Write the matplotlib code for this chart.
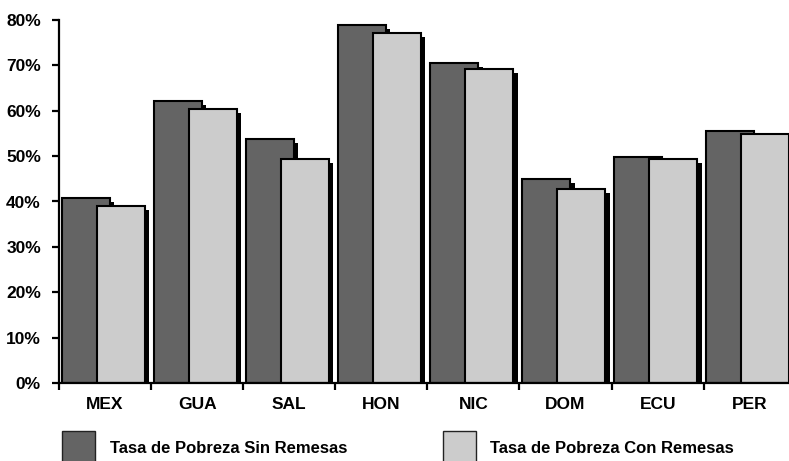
import matplotlib
matplotlib.use("Agg")
import matplotlib.pyplot as plt
from matplotlib.patches import Rectangle
from matplotlib import font_manager as fm
import numpy as np

categories = ["MEX", "GUA", "SAL", "HON", "NIC", "DOM", "ECU", "PER"]
sin_remesas = [40.8, 62.2, 53.7, 78.9, 70.6, 44.9, 49.9, 55.5]
con_remesas = [39.1, 60.4, 49.3, 77.1, 69.3, 42.7, 49.3, 54.9]
yticks = [0, 10, 20, 30, 40, 50, 60, 70, 80]
ytick_labels = ["0%", "10%", "20%", "30%", "40%", "50%", "60%", "70%", "80%"]
legend_labels = ["Tasa de Pobreza Sin Remesas", "Tasa de Pobreza Con Remesas"]

names = {f.name for f in fm.fontManager.ttflist}
main_font = "Liberation Sans" if "Liberation Sans" in names else "DejaVu Sans"
narrow_font = "Liberation Sans Narrow" if "Liberation Sans Narrow" in names else main_font

dark = "#646464"
light = "#cccccc"

W, H = 789, 461
fig = plt.figure(figsize=(W / 100, H / 100), dpi=100)
ax_left = 59 / W
ax_bottom = (H - 383) / H
ax_top = (H - 20) / H
cat_px = 92.1
ax_w = 8 * cat_px / W
ax = fig.add_axes([ax_left, ax_bottom, ax_w, ax_top - ax_bottom])

x = np.arange(len(categories))
px_x = 1 / cat_px           # one pixel in data-x units
px_y = 80 / (383 - 20)      # one pixel in data-y units

dark_off, bar_w = 2.7 * px_x, 48 * px_x
light_off = 37.7 * px_x
sdx, sdy = 4.5 * px_x, 4 * px_y

# shadows
ax.bar(x + dark_off + sdx, np.array(sin_remesas) - sdy, width=bar_w, align="edge",
       color="black", linewidth=0, zorder=1)
ax.bar(x + light_off + sdx, np.array(con_remesas) - sdy, width=bar_w, align="edge",
       color="black", linewidth=0, zorder=3)
# bars
ax.bar(x + dark_off, sin_remesas, width=bar_w, align="edge", color=dark,
       edgecolor="black", linewidth=1.5, zorder=2)
ax.bar(x + light_off, con_remesas, width=bar_w, align="edge", color=light,
       edgecolor="black", linewidth=1.5, zorder=4)

ax.set_xlim(0, 8)
ax.set_ylim(0, 80)
for s in ["top", "right"]:
    ax.spines[s].set_visible(False)
for s in ["left", "bottom"]:
    ax.spines[s].set_linewidth(1.6)
    ax.spines[s].set_color("black")
    ax.spines[s].set_zorder(6)

ax.set_yticks(yticks)
ax.set_yticklabels(ytick_labels, fontfamily=main_font, fontweight="bold", fontsize=12.5)
ax.tick_params(axis="y", length=5, width=1.6, pad=8)

ax.set_xticks(x + 0.5)
ax.set_xticklabels(categories, fontfamily=main_font, fontweight="bold", fontsize=12.5)
ax.set_xticks(np.arange(0, 8), minor=True)
ax.tick_params(axis="x", which="major", length=0, pad=10)
ax.tick_params(axis="x", which="minor", length=5, width=1.6)

# legend
for (px0, col, lab, tx) in [(62, dark, legend_labels[0], 110), (443, light, legend_labels[1], 490)]:
    fig.patches.append(Rectangle((px0 / W, (H - 470) / H), 33 / W, 39 / H,
                                 transform=fig.transFigure, facecolor=col,
                                 edgecolor="#222222", linewidth=1.0))
    fig.text(tx / W, (H - 448) / H, lab, fontfamily=narrow_font, fontweight="bold",
             fontsize=12, va="center", ha="left")

fig.savefig("out.png", dpi=100)
